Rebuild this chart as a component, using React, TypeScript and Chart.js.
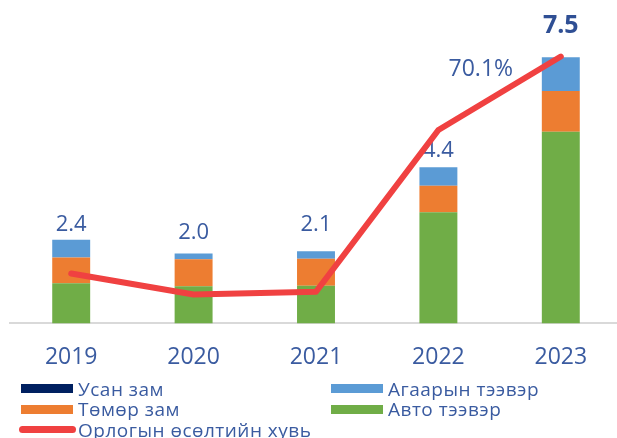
import React, { useEffect, useRef } from "react";
import { Chart, registerables } from "chart.js";

Chart.register(...registerables);

// ---- data ----
const categories = ["2019", "2020", "2021", "2022", "2023"];
const autoValues = [1.13, 1.05, 1.06, 3.13, 5.4]; // Авто тээвэр
const railValues = [0.73, 0.76, 0.76, 0.75, 1.15]; // Төмөр зам
const airValues = [0.5, 0.16, 0.21, 0.52, 0.95]; // Агаарын тээвэр
const waterValues = [0, 0, 0, 0, 0]; // Усан зам
const totalLabels = ["2.4", "2.0", "2.1", "4.4", "7.5"];
const growthValues = [13.1, 7.6, 8.3, 50.8, 70.1]; // Орлогын өсөлтийн хувь
const growthLabel = "70.1%";

const seriesNames = {
  water: "Усан зам",
  air: "Агаарын тээвэр",
  rail: "Төмөр зам",
  auto: "Авто тээвэр",
  growth: "Орлогын өсөлтийн хувь",
};

// ---- styles ----
const FONT = "'Open Sans', 'Noto Sans', sans-serif";
const TEXT_COLOR = "#3A5BA0";
const BOLD_COLOR = "#2F4F94";
const COLORS = {
  water: "#002060",
  air: "#5B9BD5",
  rail: "#ED7D31",
  auto: "#70AD47",
  growth: "#F04141",
};
const labelLift = [8.5, 14, 20.4, 10.5, 24.5];

const legendItems = [
  { name: seriesNames.water, color: COLORS.water, line: false },
  { name: seriesNames.air, color: COLORS.air, line: false },
  { name: seriesNames.rail, color: COLORS.rail, line: false },
  { name: seriesNames.auto, color: COLORS.auto, line: false },
  { name: seriesNames.growth, color: COLORS.growth, line: true },
];

const labelPlugin = {
  id: "totalLabels",
  beforeDatasetsDraw(chart: any) {
    const { ctx, scales } = chart;
    const x = scales.x;
    const y = scales.y;
    ctx.save();
    ctx.textAlign = "center";
    ctx.textBaseline = "alphabetic";
    categories.forEach((_, i) => {
      const total = autoValues[i] + railValues[i] + airValues[i] + waterValues[i];
      const px = x.getPixelForValue(i);
      const py = y.getPixelForValue(total) - labelLift[i];
      const last = i === categories.length - 1;
      ctx.font = last ? `bold 25px ${FONT}` : `22px ${FONT}`;
      ctx.fillStyle = last ? BOLD_COLOR : TEXT_COLOR;
      ctx.fillText(totalLabels[i], px, py);
    });
    // growth label near last point
    const li = growthValues.length - 1;
    const gx = x.getPixelForValue(li) - 80;
    const gy = scales.y1.getPixelForValue(growthValues[li]) + 19;
    ctx.font = `23px ${FONT}`;
    ctx.fillStyle = TEXT_COLOR;
    ctx.fillText(growthLabel, gx, gy);
    ctx.restore();
  },
};

export default function App() {
  const canvasRef = useRef<HTMLCanvasElement | null>(null);

  useEffect(() => {
    document.body.style.margin = "0";
    const canvas = canvasRef.current;
    if (!canvas) return;
    const barCommon = {
      type: "bar" as const,
      yAxisID: "y",
      barPercentage: 0.31,
      categoryPercentage: 1,
      borderWidth: 0,
      order: 1,
      stack: "s",
    };
    const chart = new Chart(canvas, {
      type: "bar",
      data: {
        labels: categories,
        datasets: [
          {
            type: "line",
            label: seriesNames.growth,
            data: growthValues,
            yAxisID: "y1",
            borderColor: COLORS.growth,
            backgroundColor: COLORS.growth,
            borderWidth: 6,
            pointRadius: 0,
            borderCapStyle: "round",
            borderJoinStyle: "round",
            tension: 0,
            order: 0,
          } as any,
          { ...barCommon, label: seriesNames.auto, data: autoValues, backgroundColor: COLORS.auto },
          { ...barCommon, label: seriesNames.rail, data: railValues, backgroundColor: COLORS.rail },
          { ...barCommon, label: seriesNames.air, data: airValues, backgroundColor: COLORS.air },
          { ...barCommon, label: seriesNames.water, data: waterValues, backgroundColor: COLORS.water },
        ],
      },
      options: {
        responsive: false,
        animation: false,
        layout: { padding: { left: 10, right: 0, top: 4, bottom: 47 } },
        plugins: {
          legend: { display: false },
          tooltip: { enabled: false },
        },
        scales: {
          x: {
            stacked: true,
            grid: { display: false, drawTicks: false },
            border: { display: true, color: "#D9D9D9", width: 2 },
            ticks: { color: TEXT_COLOR, font: { family: FONT, size: 23 }, padding: 20 },
          },
          y: {
            stacked: true,
            display: false,
            min: 0,
            max: 9,
          },
          y1: {
            display: false,
            min: 0,
            max: 83.9,
          },
        },
      },
      plugins: [labelPlugin],
    } as any);
    return () => chart.destroy();
  }, []);

  return (
    <div style={{ position: "relative", width: 617, height: 438, overflow: "hidden", background: "#fff" }}>
      <canvas ref={canvasRef} width={622} height={438} style={{ display: "block" }} />
      {legendItems.map((item, i) => {
        const col = i % 2;
        const row = Math.floor(i / 2);
        const left = 19 + col * 310;
        const centerY = 388.5 + row * 20.7;
        return (
          <div
            key={item.name}
            style={{
              position: "absolute",
              left,
              top: centerY - 12,
              height: 24,
              display: "flex",
              alignItems: "center",
              whiteSpace: "nowrap",
              fontFamily: FONT,
              fontSize: 19,
              letterSpacing: "0.5px",
              color: TEXT_COLOR,
            }}
          >
            <div style={{ position: "relative", width: 59, height: 24, flex: "none" }}>
              {item.line ? (
                <div
                  style={{
                    position: "absolute",
                    left: 0,
                    top: 8.5,
                    width: 57,
                    height: 7,
                    borderRadius: 4,
                    background: item.color,
                  }}
                />
              ) : (
                <div
                  style={{
                    position: "absolute",
                    left: 2,
                    top: 7.5,
                    width: 52,
                    height: 9,
                    background: item.color,
                  }}
                />
              )}
            </div>
            <span style={{ lineHeight: "24px" }}>{item.name}</span>
          </div>
        );
      })}
    </div>
  );
}
